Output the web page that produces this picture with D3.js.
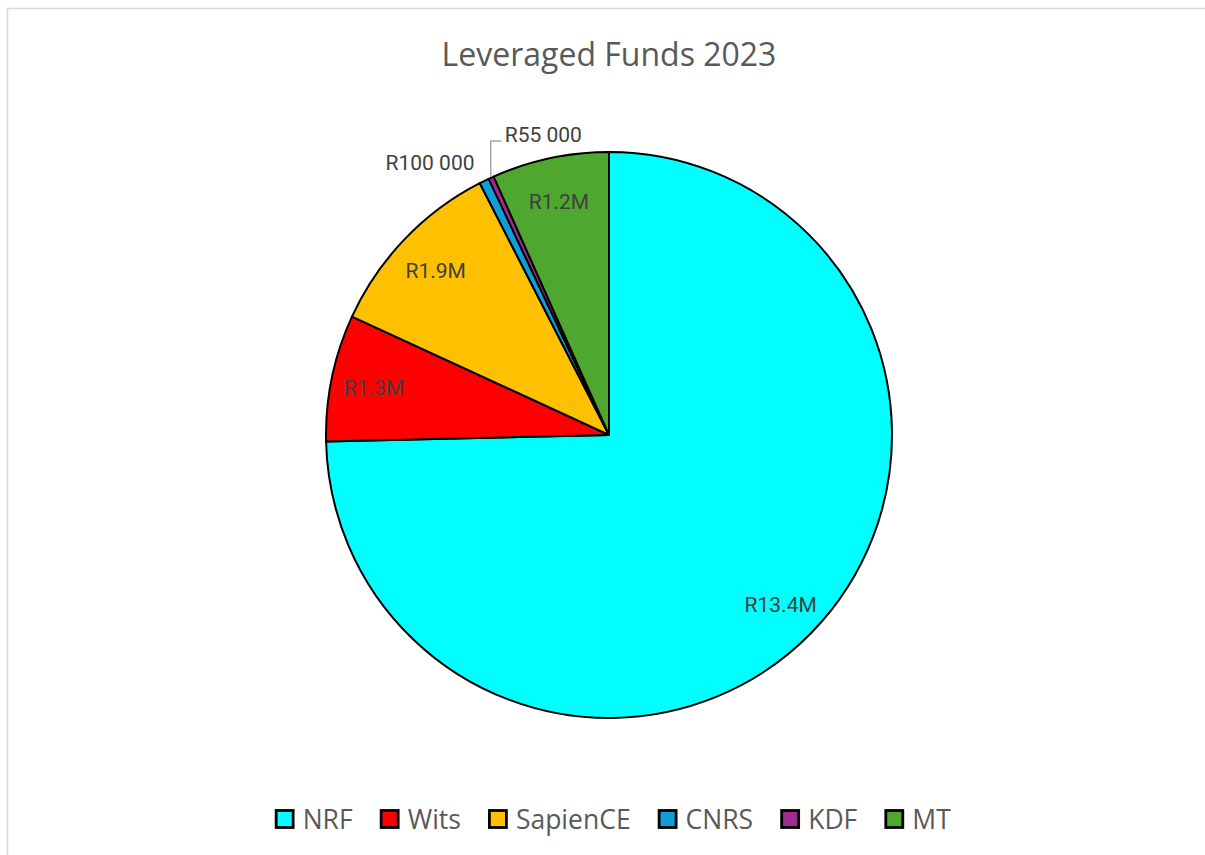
<!DOCTYPE html>
<html><head><meta charset="utf-8">
<script src="https://cdn.jsdelivr.net/npm/d3@7"></script>
<style>body{margin:0;background:#fff}svg{display:block}</style>
</head><body>
<svg id="c" width="1205" height="855"></svg>
<script>
const categories = ["NRF","Wits","SapienCE","CNRS","KDF","MT"];
const values = [13400000,1300000,1900000,100000,55000,1200000];
const labels = ["R13.4M","R1.3M","R1.9M","R100 000","R55 000","R1.2M"];
const colors = ["#00FFFF","#FF0000","#FFC000","#0F9ED5","#A02B93","#4EA72E"];
const title = "Leveraged Funds 2023";

const svg = d3.select("#c");
svg.append("rect").attr("x",7.5).attr("y",8.5).attr("width",1300).attr("height",900)
  .attr("fill","#fff").attr("stroke","#d9d9d9").attr("stroke-width",1.5);

svg.append("text").attr("x",609).attr("y",66).attr("text-anchor","middle")
  .attr("font-family","Open Sans, sans-serif").attr("font-size",32).attr("fill","#595959").text(title);

const cx=609, cy=435, R=283;
const g = svg.append("g").attr("transform",`translate(${cx},${cy})`);
const data = categories.map((c,i)=>({c, v:values[i], l:labels[i], col:colors[i]}));
const pie = d3.pie().value(d=>d.v).sort(null);
const arcs = pie(data);
const arc = d3.arc().innerRadius(0).outerRadius(R);
g.selectAll("path").data(arcs).join("path").attr("d",arc)
  .attr("fill",d=>d.data.col).attr("stroke","#000").attr("stroke-width",2).attr("stroke-linejoin","round");

const lf = "Roboto, sans-serif", ls = 21;
const inner = d3.arc().innerRadius(240).outerRadius(240);
arcs.forEach((a,i)=>{
  const mid=(a.startAngle+a.endAngle)/2;
  if (i===3){
    const r=R+22;
    g.append("text").attr("x",r*Math.sin(mid)).attr("y",-r*Math.cos(mid)+9)
      .attr("text-anchor","end").attr("font-family",lf).attr("font-size",ls).attr("fill","#404040").text(a.data.l);
  } else if (i===4){
    const x0=(R+1)*Math.sin(mid), y0=-(R+1)*Math.cos(mid);
    const yk=141-cy;
    g.append("path").attr("d",`M${x0},${y0}V${yk}H${x0+11}`).attr("fill","none")
      .attr("stroke","#a6a6a6").attr("stroke-width",1.5);
    g.append("text").attr("x",x0+14).attr("y",yk+1)
      .attr("font-family",lf).attr("font-size",ls).attr("fill","#404040").text(a.data.l);
  } else {
    const [x,y]=inner.centroid(a);
    g.append("text").attr("x",x).attr("y",y+9).attr("text-anchor","middle")
      .attr("font-family",lf).attr("font-size",ls).attr("fill","#404040").text(a.data.l);
  }
});

// legend
const lg = svg.append("g");
let x=0;
data.forEach((d,i)=>{
  const it = lg.append("g");
  it.append("rect").attr("x",1.5).attr("y",-18.5).attr("width",17).attr("height",17)
    .attr("fill",d.col).attr("stroke","#000").attr("stroke-width",2.8);
  const t = it.append("text").attr("x",28).attr("y",0).attr("font-family","Open Sans, sans-serif")
    .attr("font-size",26.5).attr("fill","#595959").text(d.c);
  const w = 28 + t.node().getComputedTextLength();
  it.attr("transform",`translate(${x},0)`);
  x += w + 27;
});
const total = x-27;
lg.attr("transform",`translate(${612.7-total/2},829)`);
</script>
</body></html>
